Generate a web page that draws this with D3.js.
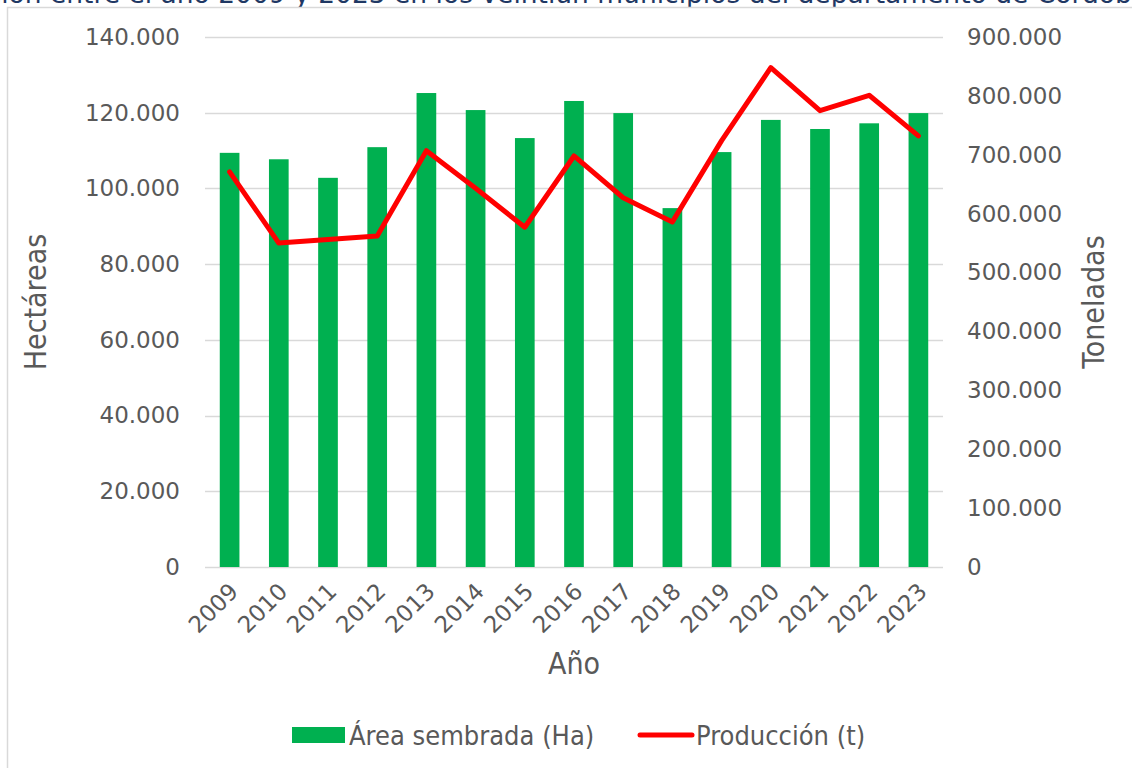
<!DOCTYPE html>
<meta charset="utf-8">
<script src="https://d3js.org/d3.v7.min.js"></script>
<style>
body { margin: 0; background: #fff; }
svg { display: block; }
.tick text { font-family: "DejaVu Sans", Verdana, sans-serif; fill: #595959; }
.cond { font-family: "DejaVu Sans Condensed", "DejaVu Sans", sans-serif; font-stretch: condensed; fill: #595959; }
</style>
<body>
<div id="canvas"></div>
<script>

// datos
var years = ["2009","2010","2011","2012","2013","2014","2015","2016","2017","2018","2019","2020","2021","2022","2023"];
var area = [109400, 107700, 102800, 110900, 125200, 120700, 113300, 123100, 119900, 94800, 109600, 118100, 115700, 117200, 119900];
var produccion = [671000, 550000, 556000, 562000, 707000, 643000, 577000, 698000, 627000, 586000, 724000, 848000, 775000, 801000, 732000];
var leftTicks = [0, 20000, 40000, 60000, 80000, 100000, 120000, 140000];
var rightTicks = [0, 100000, 200000, 300000, 400000, 500000, 600000, 700000, 800000, 900000];
var titulo = "Figura 1. Área sembrada y producción entre el año 2009 y 2023 en los veintiún municipios del departamento de Córdoba";

var width = 1132;
var height = 768;

var svg = d3.select("#canvas")
    .append("svg")
    .attr("width", width)
    .attr("height", height);

// formato con punto de miles
var es = d3.formatLocale({decimal: ",", thousands: ".", grouping: [3], currency: ["$", ""]});
var fmt = es.format(",.0f");

// titulo cortado arriba
svg.append("text")
    .attr("x", 1148)
    .attr("y", 3)
    .attr("text-anchor", "end")
    .style("font-family", "DejaVu Sans, Verdana, sans-serif")
    .style("font-size", "26.5px")
    .style("fill", "#1F3864")
    .text(titulo);

// marco del grafico
svg.append("rect")
    .attr("x", 7.5)
    .attr("y", 7.5)
    .attr("width", 1200)
    .attr("height", 900)
    .attr("fill", "#fff")
    .attr("stroke", "#D9D9D9")
    .attr("stroke-width", 1.5);

var plot = {left: 205, right: 943, top: 37, bottom: 567};

var x = d3.scaleBand()
    .domain(years)
    .range([plot.left, plot.right])
    .paddingInner(0.6)
    .paddingOuter(0.3);

var y = d3.scaleLinear()
    .domain([0, 140000])
    .range([plot.bottom, plot.top]);

var y2 = d3.scaleLinear()
    .domain([0, 900000])
    .range([plot.bottom, plot.top]);

// lineas de la grilla
svg.append("g")
    .selectAll("line")
    .data(leftTicks)
    .enter()
    .append("line")
    .attr("x1", plot.left)
    .attr("x2", plot.right)
    .attr("y1", function(d) { return Math.round(y(d)) + 0.5; })
    .attr("y2", function(d) { return Math.round(y(d)) + 0.5; })
    .attr("stroke", "#D9D9D9")
    .attr("stroke-width", 1.5);

// eje izquierdo
var gy = svg.append("g")
    .attr("transform", "translate(" + plot.left + ",0)")
    .call(d3.axisLeft(y).tickValues(leftTicks).tickFormat(fmt).tickSize(0).tickPadding(25));
gy.select(".domain").remove();
gy.selectAll("text").style("font-size", "23px");

// eje derecho
var gy2 = svg.append("g")
    .attr("transform", "translate(" + plot.right + ",0)")
    .call(d3.axisRight(y2).tickValues(rightTicks).tickFormat(fmt).tickSize(0).tickPadding(24));
gy2.select(".domain").remove();
gy2.selectAll("text").style("font-size", "23px");

// barras
svg.append("g")
    .selectAll("rect")
    .data(area)
    .enter()
    .append("rect")
    .attr("x", function(d, i) { return x(years[i]); })
    .attr("y", function(d) { return y(d); })
    .attr("width", x.bandwidth())
    .attr("height", function(d) { return y(0) - y(d); })
    .attr("fill", "#00B050");

// eje x
var gx = svg.append("g")
    .attr("transform", "translate(0," + plot.bottom + ")")
    .call(d3.axisBottom(x).tickSize(0));
gx.select(".domain").remove();
gx.selectAll("text")
    .style("font-size", "23px")
    .style("text-anchor", "end")
    .attr("dy", null)
    .attr("y", 0)
    .attr("transform", "translate(10,26) rotate(-45)");

// linea de produccion
var line = d3.line()
    .x(function(d, i) { return x(years[i]) + x.bandwidth() / 2; })
    .y(function(d) { return y2(d); });

svg.append("path")
    .datum(produccion)
    .attr("d", line)
    .attr("fill", "none")
    .attr("stroke", "#FF0000")
    .attr("stroke-width", 5)
    .attr("stroke-linejoin", "round")
    .attr("stroke-linecap", "round");

// titulos de ejes
svg.append("text")
    .attr("class", "cond")
    .attr("transform", "translate(46,302) rotate(-90)")
    .attr("text-anchor", "middle")
    .style("font-size", "30px")
    .text("Hectáreas");

svg.append("text")
    .attr("class", "cond")
    .attr("transform", "translate(1104,302) rotate(-90)")
    .attr("text-anchor", "middle")
    .style("font-size", "30px")
    .text("Toneladas");

svg.append("text")
    .attr("class", "cond")
    .attr("x", (plot.left + plot.right) / 2)
    .attr("y", 674)
    .attr("text-anchor", "middle")
    .style("font-size", "30px")
    .text("Año");

// leyenda
var leg = svg.append("g");
leg.append("rect")
    .attr("x", 292)
    .attr("y", 727)
    .attr("width", 53)
    .attr("height", 16)
    .attr("fill", "#00B050");
leg.append("text")
    .attr("class", "cond")
    .attr("x", 349)
    .attr("y", 745)
    .style("font-size", "27px")
    .text("Área sembrada (Ha)");
leg.append("line")
    .attr("x1", 640)
    .attr("x2", 692)
    .attr("y1", 735)
    .attr("y2", 735)
    .attr("stroke", "#FF0000")
    .attr("stroke-width", 5)
    .attr("stroke-linecap", "round");
leg.append("text")
    .attr("class", "cond")
    .attr("x", 696)
    .attr("y", 745)
    .style("font-size", "27px")
    .text("Producción (t)");

</script>
</body>
